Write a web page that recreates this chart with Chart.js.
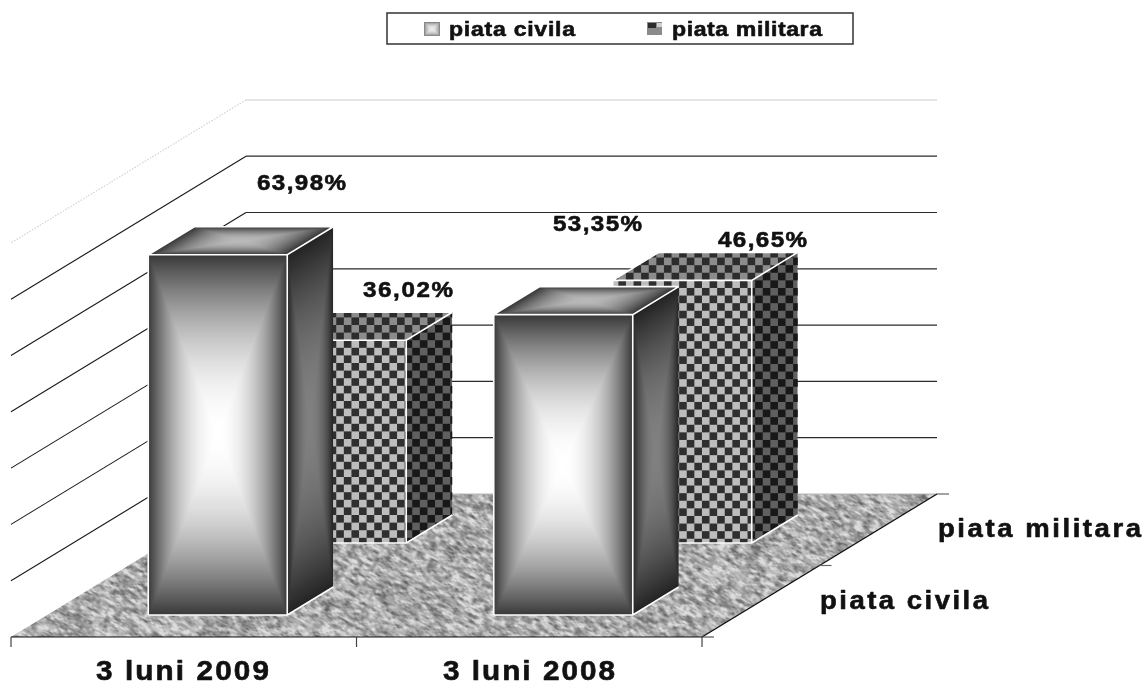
<!DOCTYPE html>
<html>
<head>
<meta charset="utf-8">
<style>
  html, body { margin: 0; background: #fff; }
  canvas { display: block; }
</style>
</head>
<body>
<canvas id="chart" width="1143" height="684"></canvas>
<script src="https://cdn.jsdelivr.net/npm/chart.js@4"></script>
<script>
const categories = ["3 luni 2009", "3 luni 2008"];
const seriesNames = ["piata civila", "piata militara"];
const civilValues = [63.98, 53.35];
const militaryValues = [36.02, 46.65];
const wallTicks = [0, 10, 20, 30, 40, 50, 60, 70];

// hand placed text, as in the original: [left, baseline, width]
const valueLabelPos = [
  [[257, 190, 89], [553, 231, 89]],
  [[363, 297, 90], [718, 247, 89]],
];
const categoryLabelPos = [[96, 680, 173], [443, 680, 172]];
const seriesLabelPos = [[820, 609, 168], [938, 537, 203]];
const legendLabelPos = [[449, 36, 126], [672, 36, 150]];

// projection of the fake 3d box
const PCT_PX = 5.63;
const UNIT_PX = 345.5;
const AREA = { left: 11, right: 937, top: 100, bottom: 637 };
const DEPTH = { x: 46, y: 28 };

// every row of the box gets its own pair of scales, shifted in x and y
function xRange(shift) {
  const min = -shift / UNIT_PX;
  return { type: "linear", display: false, offset: false, min, max: min + (AREA.right - AREA.left) / UNIT_PX };
}
function yRange(baseY) {
  const min = -(AREA.bottom - baseY) / PCT_PX;
  return { type: "linear", display: false, min, max: min + (AREA.bottom - AREA.top) / PCT_PX, ticks: { stepSize: 10 } };
}

function hash(i, j) {
  const s = Math.sin(i * 127.1 + j * 311.7) * 43758.5453;
  return s - Math.floor(s);
}
function smoothNoise(u, v) {
  const i = Math.floor(u), j = Math.floor(v);
  let fu = u - i, fv = v - j;
  fu = fu * fu * (3 - 2 * fu);
  fv = fv * fv * (3 - 2 * fv);
  const a = hash(i, j) + (hash(i + 1, j) - hash(i, j)) * fu;
  const b = hash(i, j + 1) + (hash(i + 1, j + 1) - hash(i, j + 1)) * fu;
  return a + (b - a) * fv;
}

// mottled stone texture of the floor
function makeFloorTexture(w, h) {
  const c = document.createElement("canvas");
  c.width = w;
  c.height = h;
  const g = c.getContext("2d");
  const img = g.createImageData(w, h);
  for (let y = 0; y < h; y++) {
    for (let x = 0; x < w; x++) {
      const u = x * 0.88 + y * 0.48, v = -x * 0.48 + y * 0.88;
      const n = 0.6 * smoothNoise(u / 7, v / 3) + 0.4 * smoothNoise(u / 3, v / 1.6);
      const val = Math.max(85, Math.min(220, 170 + (n - 0.5) * 165));
      const p = (y * w + x) * 4;
      img.data[p] = img.data[p + 1] = img.data[p + 2] = val;
      img.data[p + 3] = 255;
    }
  }
  g.putImageData(img, 0, 0);
  return c;
}

// gradient running from the middle of a rectangle out to its edges
function makeFace(w, h, center, edge, pow) {
  const c = document.createElement("canvas");
  c.width = Math.round(w);
  c.height = Math.round(h);
  const g = c.getContext("2d");
  const img = g.createImageData(c.width, c.height);
  for (let y = 0; y < c.height; y++) {
    for (let x = 0; x < c.width; x++) {
      const t = Math.min(1, Math.max(Math.abs(x + 0.5 - c.width / 2) / (c.width / 2), Math.abs(y + 0.5 - c.height / 2) / (c.height / 2)));
      const val = edge + (center - edge) * (1 - Math.pow(t, pow));
      const p = (y * c.width + x) * 4;
      img.data[p] = img.data[p + 1] = img.data[p + 2] = val;
      img.data[p + 3] = 255;
    }
  }
  g.putImageData(img, 0, 0);
  return c;
}

function polygon(ctx, pts) {
  ctx.beginPath();
  pts.forEach((p, i) => (i ? ctx.lineTo(p[0], p[1]) : ctx.moveTo(p[0], p[1])));
  ctx.closePath();
}

function line(ctx, x0, y0, x1, y1, color, width) {
  ctx.strokeStyle = color;
  ctx.lineWidth = width;
  ctx.beginPath();
  ctx.moveTo(x0, y0);
  ctx.lineTo(x1, y1);
  ctx.stroke();
}

function checker(ctx, pts, ox, oy, light, dark) {
  const cell = 7.6;
  ctx.save();
  polygon(ctx, pts);
  ctx.clip();
  const xs = pts.map((p) => p[0]), ys = pts.map((p) => p[1]);
  const minX = Math.min(...xs), maxX = Math.max(...xs), minY = Math.min(...ys), maxY = Math.max(...ys);
  ctx.fillStyle = light;
  ctx.fillRect(minX, minY, maxX - minX, maxY - minY);
  ctx.fillStyle = dark;
  const c0 = Math.floor((minX - ox) / cell) - 1, r0 = Math.floor((minY - oy) / cell) - 1;
  for (let r = r0; (oy + r * cell) < maxY; r++) {
    for (let c = c0; (ox + c * cell) < maxX; c++) {
      if (((r + c) % 2 + 2) % 2 === 1) ctx.fillRect(ox + c * cell, oy + r * cell, cell, cell);
    }
  }
  ctx.restore();
}

// stretched wide bold text, like the scaled up picture
function wideText(ctx, str, pos, size) {
  const sx = 1.1;
  ctx.save();
  ctx.font = "bold " + size + "px 'Liberation Sans', Arial, sans-serif";
  ctx.fillStyle = "#111";
  ctx.strokeStyle = "#111";
  ctx.lineWidth = 0.6;
  ctx.lineJoin = "round";
  ctx.textAlign = "left";
  ctx.textBaseline = "alphabetic";
  ctx.letterSpacing = "0px";
  const natural = ctx.measureText(str).width;
  ctx.letterSpacing = (pos[2] / sx - natural) / (str.length - 1) + "px";
  ctx.translate(pos[0], pos[1]);
  ctx.scale(sx, 1);
  ctx.fillText(str, 0, 0);
  ctx.strokeText(str, 0, 0);
  ctx.restore();
}

const floorTexture = makeFloorTexture(1143, 200);
const faceCache = {};
function face(key, w, h, center, edge, pow) {
  const k = key + Math.round(h);
  if (!faceCache[k]) faceCache[k] = makeFace(w, h, center, edge, pow);
  return faceCache[k];
}

function drawCivilBar(ctx, left, right, top, base) {
  const w = right - left, h = base - top;
  ctx.drawImage(face("front", w, h, 255, 56, 2), left, top, w, h);
  ctx.save();
  polygon(ctx, [[right, top], [right + DEPTH.x, top - DEPTH.y], [right + DEPTH.x, base - DEPTH.y], [right, base]]);
  ctx.clip();
  ctx.transform(1, -DEPTH.y / DEPTH.x, 0, 1, right, top);
  ctx.drawImage(face("side", DEPTH.x, h, 128, 34, 2), 0, 0, DEPTH.x, h);
  ctx.restore();
  ctx.save();
  polygon(ctx, [[left, top], [right, top], [right + DEPTH.x, top - DEPTH.y], [left + DEPTH.x, top - DEPTH.y]]);
  ctx.clip();
  ctx.transform(1, 0, -DEPTH.x / DEPTH.y, 1, left + DEPTH.x, top - DEPTH.y);
  ctx.drawImage(face("top", w, DEPTH.y, 185, 50, 2), 0, 0, w, DEPTH.y);
  ctx.restore();
}

function drawMilitaryBar(ctx, left, right, top, base, phase) {
  const ox = left + phase;
  checker(ctx, [[left, top], [right, top], [right, base], [left, base]], ox, top, "#bdbdbd", "#2f2f2f");
  checker(ctx, [[right, top], [right + DEPTH.x, top - DEPTH.y], [right + DEPTH.x, base - DEPTH.y], [right, base]], ox, top, "#606060", "#181818");
  checker(ctx, [[left, top], [right, top], [right + DEPTH.x, top - DEPTH.y], [left + DEPTH.x, top - DEPTH.y]], ox, top, "#8c8c8c", "#2c2c2c");
}

function barEdges(ctx, left, right, top, base) {
  ctx.beginPath();
  ctx.moveTo(left, base);
  ctx.lineTo(left, top);
  ctx.lineTo(left + DEPTH.x, top - DEPTH.y);
  ctx.lineTo(right + DEPTH.x, top - DEPTH.y);
  ctx.moveTo(left, top);
  ctx.lineTo(right, top);
  ctx.lineTo(right + DEPTH.x, top - DEPTH.y);
  ctx.moveTo(right, top);
  ctx.lineTo(right, base);
  ctx.lineTo(left, base);
  ctx.moveTo(right, base);
  ctx.lineTo(right + DEPTH.x, base - DEPTH.y);
  ctx.strokeStyle = "#fff";
  ctx.lineWidth = 1.6;
  ctx.stroke();
}

const scene3d = {
  id: "scene3d",
  beforeDatasetsDraw(chart) {
    const { ctx, scales } = chart;
    const x0 = scales.xWall.getPixelForValue(0), x2 = scales.xWall.getPixelForValue(categories.length);
    const fx0 = scales.xFront.getPixelForValue(0), fx2 = scales.xFront.getPixelForValue(categories.length);
    const backY = scales.yWall.getPixelForValue(0), frontY = AREA.bottom;
    const dy = frontY - backY;

    // floor
    ctx.save();
    polygon(ctx, [[fx0, frontY], [x0, backY], [x2, backY], [fx2, frontY]]);
    ctx.clip();
    ctx.drawImage(floorTexture, 0, backY);
    ctx.restore();

    // walls
    wallTicks.forEach((v) => {
      const y = scales.yWall.getPixelForValue(v);
      const last = v === wallTicks[wallTicks.length - 1];
      if (v === 0) {
        line(ctx, x0, y, x2, y, "#b5b5b5", 1.2);
        return;
      }
      line(ctx, x0, y, x2, y, last ? "#dcdcdc" : "#2a2a2a", last ? 1.5 : 1.2);
      if (last) ctx.setLineDash([1.5, 1.5]);
      line(ctx, x0, y, fx0, y + dy, last ? "#cfcfcf" : "#1a1a1a", 1.1);
      ctx.setLineDash([]);
    });

    // floor edges and small tick marks
    line(ctx, fx0, frontY, fx2, frontY, "#111", 1.2);
    line(ctx, fx2, frontY, x2, backY, "#111", 1.4);
    line(ctx, x2, backY, x2 + 12, backY, "#666", 1.2);
    line(ctx, fx2, frontY, fx2 + 12, frontY, "#555", 1.2);
    const midX = fx2 + (x2 - fx2) * 0.5, midY = frontY - dy * 0.5;
    line(ctx, midX, midY, midX + 12, midY, "#666", 1.2);
    for (let i = 0; i <= categories.length; i++) {
      const x = scales.xFront.getPixelForValue(i);
      line(ctx, x, frontY, x, frontY + 10, "#444", 1.2);
    }
  },
  afterDatasetDraw(chart, args) {
    const { ctx } = chart;
    args.meta.data.forEach((el, i) => {
      const left = el.x - el.width / 2, right = el.x + el.width / 2;
      if (args.index === 0) {
        drawCivilBar(ctx, left, right, el.y, el.base);
      } else {
        drawMilitaryBar(ctx, left, right, el.y, el.base, [-7, -2][i]);
      }
      barEdges(ctx, left, right, el.y, el.base);
    });
  },
  afterDraw(chart) {
    const { ctx } = chart;
    [civilValues, militaryValues].forEach((vals, s) => {
      vals.forEach((v, i) => {
        wideText(ctx, v.toFixed(2).replace(".", ",") + "%", valueLabelPos[s][i], 22);
      });
    });
    categories.forEach((c, i) => wideText(ctx, c, categoryLabelPos[i], 27));
    seriesNames.forEach((s, i) => wideText(ctx, s, seriesLabelPos[i], 25));

    // legend box
    ctx.strokeStyle = "#333";
    ctx.lineWidth = 1.5;
    ctx.strokeRect(387, 13, 466, 31);
    seriesNames.forEach((s, i) => wideText(ctx, s, legendLabelPos[i], 21));
    ctx.drawImage(makeFace(16, 14, 235, 130, 2), 424, 22);
    ctx.strokeStyle = "#888";
    ctx.lineWidth = 1;
    ctx.strokeRect(424.5, 22.5, 15, 13);
    ctx.fillStyle = "#8a8a8a";
    ctx.fillRect(647, 22, 15, 13);
    ctx.fillStyle = "#2c2c2c";
    ctx.fillRect(648, 23, 8, 5);
    ctx.fillStyle = "#d0d0d0";
    ctx.fillRect(657, 23, 5, 4);
  },
};

new Chart(document.getElementById("chart"), {
  type: "bar",
  data: {
    datasets: [
      {
        label: seriesNames[0],
        data: civilValues.map((v, i) => ({ x: i + 0.5, y: v })),
        backgroundColor: "#888",
        barThickness: 139,
        xAxisID: "xCivil",
        yAxisID: "yCivil",
      },
      {
        label: seriesNames[1],
        data: militaryValues.map((v, i) => ({ x: i + 0.5, y: v })),
        backgroundColor: "#555",
        barThickness: 139,
        xAxisID: "xMilitary",
        yAxisID: "yMilitary",
      },
    ],
  },
  options: {
    responsive: false,
    animation: false,
    grouped: false,
    layout: {
      padding: {
        left: AREA.left,
        right: 1143 - AREA.right,
        top: AREA.top,
        bottom: 684 - AREA.bottom,
      },
    },
    scales: {
      xFront: xRange(0),
      xCivil: xRange(34),
      xMilitary: xRange(153),
      xWall: xRange(235),
      yFront: yRange(637),
      yCivil: yRange(615),
      yMilitary: yRange(543),
      yWall: yRange(494),
    },
    plugins: {
      legend: { display: false },
      title: { display: false },
      tooltip: { enabled: false },
    },
  },
  plugins: [scene3d],
});
</script>
</body>
</html>
